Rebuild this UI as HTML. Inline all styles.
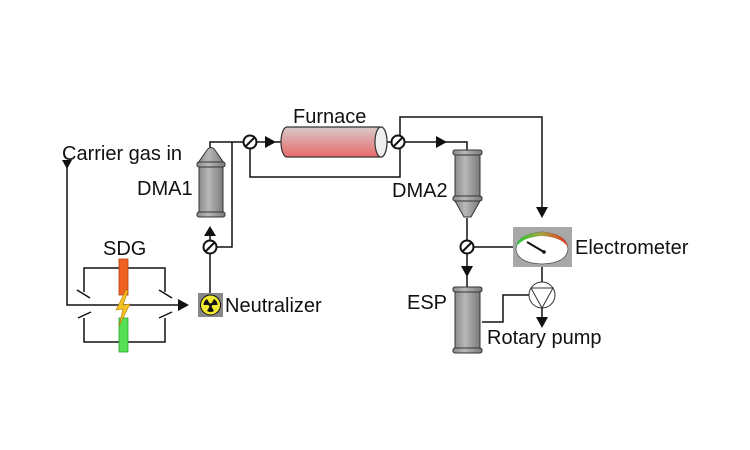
<!DOCTYPE html>
<html><head><meta charset="utf-8"><style>
html,body{margin:0;padding:0;background:#fff;}
svg{display:block;}
text{font-family:"Liberation Sans",Arial,sans-serif;font-size:20px;fill:#111;}
</style></head><body>
<svg width="750" height="450" viewBox="0 0 750 450" xmlns="http://www.w3.org/2000/svg">
<defs>
<linearGradient id="fur" x1="0" y1="0" x2="0" y2="1">
<stop offset="0" stop-color="#d8c8c8"/><stop offset="1" stop-color="#e86a6a"/></linearGradient>
<linearGradient id="cyl" x1="0" y1="0" x2="1" y2="0">
<stop offset="0" stop-color="#8a8a8a"/><stop offset="0.4" stop-color="#b8b8b8"/><stop offset="1" stop-color="#7a7a7a"/></linearGradient>
<linearGradient id="arc" x1="0" y1="0" x2="1" y2="0">
<stop offset="0" stop-color="#22cc33"/><stop offset="0.5" stop-color="#aaa040"/><stop offset="1" stop-color="#e03020"/></linearGradient>
</defs>
<g stroke="#111" stroke-width="1.5" fill="none">
<polyline points="67,165 67,305 180,305"/>
<polyline points="84,292 84,268 165,268 165,292"/>
<polyline points="84,318 84,342 165,342 165,318"/>
<line x1="77" y1="290" x2="90" y2="298"/>
<line x1="159" y1="290" x2="172" y2="298"/>
<line x1="78" y1="318" x2="91" y2="312"/>
<line x1="159" y1="318" x2="172" y2="312"/>
<line x1="210" y1="293" x2="210" y2="254"/>
<line x1="210" y1="240" x2="210" y2="232"/>
<polyline points="216,247 232,247 232,142 243,142"/>
<polyline points="210,148 210,142 232,142"/>
<line x1="257" y1="142" x2="282" y2="142"/>
<polyline points="250,149 250,177 400,177 400,149"/>
<polyline points="400,135 400,117 542,117 542,208"/>
<line x1="387" y1="142" x2="391" y2="142"/>
<polyline points="405,142 467,142 467,150"/>
<line x1="467" y1="218" x2="467" y2="240"/>
<line x1="474" y1="247" x2="513" y2="247"/>
<line x1="467" y1="254" x2="467" y2="287"/>
<line x1="542" y1="267" x2="542" y2="282"/>
<line x1="542" y1="308" x2="542" y2="318"/>
<polyline points="529,295 503,295 503,322 482,322"/>
</g>
<g fill="#111">
<polygon points="62,160 72,160 67,169"/>
<polygon points="178,299 178,311 189,305"/>
<polygon points="204,236 216,236 210,226"/>
<polygon points="265,136 265,148 276,142"/>
<polygon points="436,136 436,148 447,142"/>
<polygon points="536,207 548,207 542,218"/>
<polygon points="461,266 473,266 467,277"/>
<polygon points="536,317 548,317 542,328"/>
</g>
<rect x="119" y="259" width="9" height="36" fill="#f06020" stroke="#b04010" stroke-width="0.8"/>
<rect x="119" y="318" width="9" height="34" fill="#55e055" stroke="#30a030" stroke-width="0.8"/>
<polygon points="126,290 116,310 123,309 119,326 130,304 123,305 128,291" fill="#f5c020" stroke="#b08000" stroke-width="0.6"/>
<rect x="198" y="293" width="25" height="24" fill="#888"/>
<circle cx="210.5" cy="305" r="10" fill="#f2ea30" stroke="#111" stroke-width="1"/>
<circle cx="210.5" cy="305" r="1.8" fill="#111"/>
<path d="M210.5,305 L207,299 A7,7 0 0 0 203.5,305 Z M210.5,305 L214,299 A7,7 0 0 1 217.5,305 Z M210.5,305 L214,311 A7,7 0 0 1 207,311 Z" fill="#111"/>
<g stroke="#111" stroke-width="2" fill="#fff">
<circle cx="210" cy="247" r="6.5"/><line x1="205" y1="252" x2="215" y2="242"/>
<circle cx="250" cy="142" r="6.5"/><line x1="245" y1="147" x2="255" y2="137"/>
<circle cx="398" cy="142" r="6.5"/><line x1="393" y1="147" x2="403" y2="137"/>
<circle cx="467" cy="247" r="6.5"/><line x1="462" y1="252" x2="472" y2="242"/>
</g>
<g stroke="#333" stroke-width="1">
<path d="M207,150 Q211,145 215,150 L224,163 L198,163 Z" fill="url(#cyl)"/>
<rect x="197" y="162" width="28" height="5" rx="2" fill="url(#cyl)"/>
<rect x="199" y="167" width="24" height="46" fill="url(#cyl)"/>
<rect x="197" y="212" width="28" height="5" rx="2" fill="url(#cyl)"/>
</g>
<g stroke="#333" stroke-width="1">
<rect x="453" y="150" width="29" height="5" rx="2" fill="url(#cyl)"/>
<rect x="455" y="155" width="25" height="42" fill="url(#cyl)"/>
<rect x="453" y="196" width="29" height="5" rx="2" fill="url(#cyl)"/>
<polygon points="455,201 480,201 471,217 464,217" fill="url(#cyl)"/>
</g>
<g stroke="#333" stroke-width="1">
<rect x="453" y="287" width="29" height="5" rx="2" fill="url(#cyl)"/>
<rect x="455" y="292" width="25" height="56" fill="url(#cyl)"/>
<rect x="453" y="348" width="29" height="5" rx="2" fill="url(#cyl)"/>
</g>
<path d="M287,127 L381,127 A6,15 0 0 1 381,157 L287,157 A6,15 0 0 1 287,127 Z" fill="url(#fur)" stroke="#333" stroke-width="1.2"/>
<ellipse cx="381" cy="142" rx="6" ry="15" fill="#eee" stroke="#333" stroke-width="1.2"/>
<rect x="513" y="227" width="59" height="40" fill="#a8a8a8"/>
<path d="M516,249 Q517,234 542,232 Q567,234 568,249 Q567,263 542,264 Q517,263 516,249 Z" fill="#fff" stroke="#555" stroke-width="0.8"/>
<path d="M516,247 Q519,233 542,232 Q565,233 568,247 Q561,237 542,236 Q523,237 516,247 Z" fill="url(#arc)"/>
<line x1="527" y1="242" x2="544" y2="252" stroke="#111" stroke-width="2"/>
<circle cx="544" cy="252" r="1.8" fill="#111"/>
<circle cx="542" cy="295" r="13" fill="#fff" stroke="#333" stroke-width="1"/>
<polyline points="531,288 542,308 553,288 531,288" fill="none" stroke="#333" stroke-width="1"/>
<text x="62" y="160">Carrier gas in</text>
<text x="103" y="255">SDG</text>
<text x="225" y="312">Neutralizer</text>
<text x="137" y="195">DMA1</text>
<text x="293" y="123">Furnace</text>
<text x="392" y="197">DMA2</text>
<text x="575" y="254">Electrometer</text>
<text x="407" y="309">ESP</text>
<text x="487" y="344">Rotary pump</text>
</svg>
</body></html>
